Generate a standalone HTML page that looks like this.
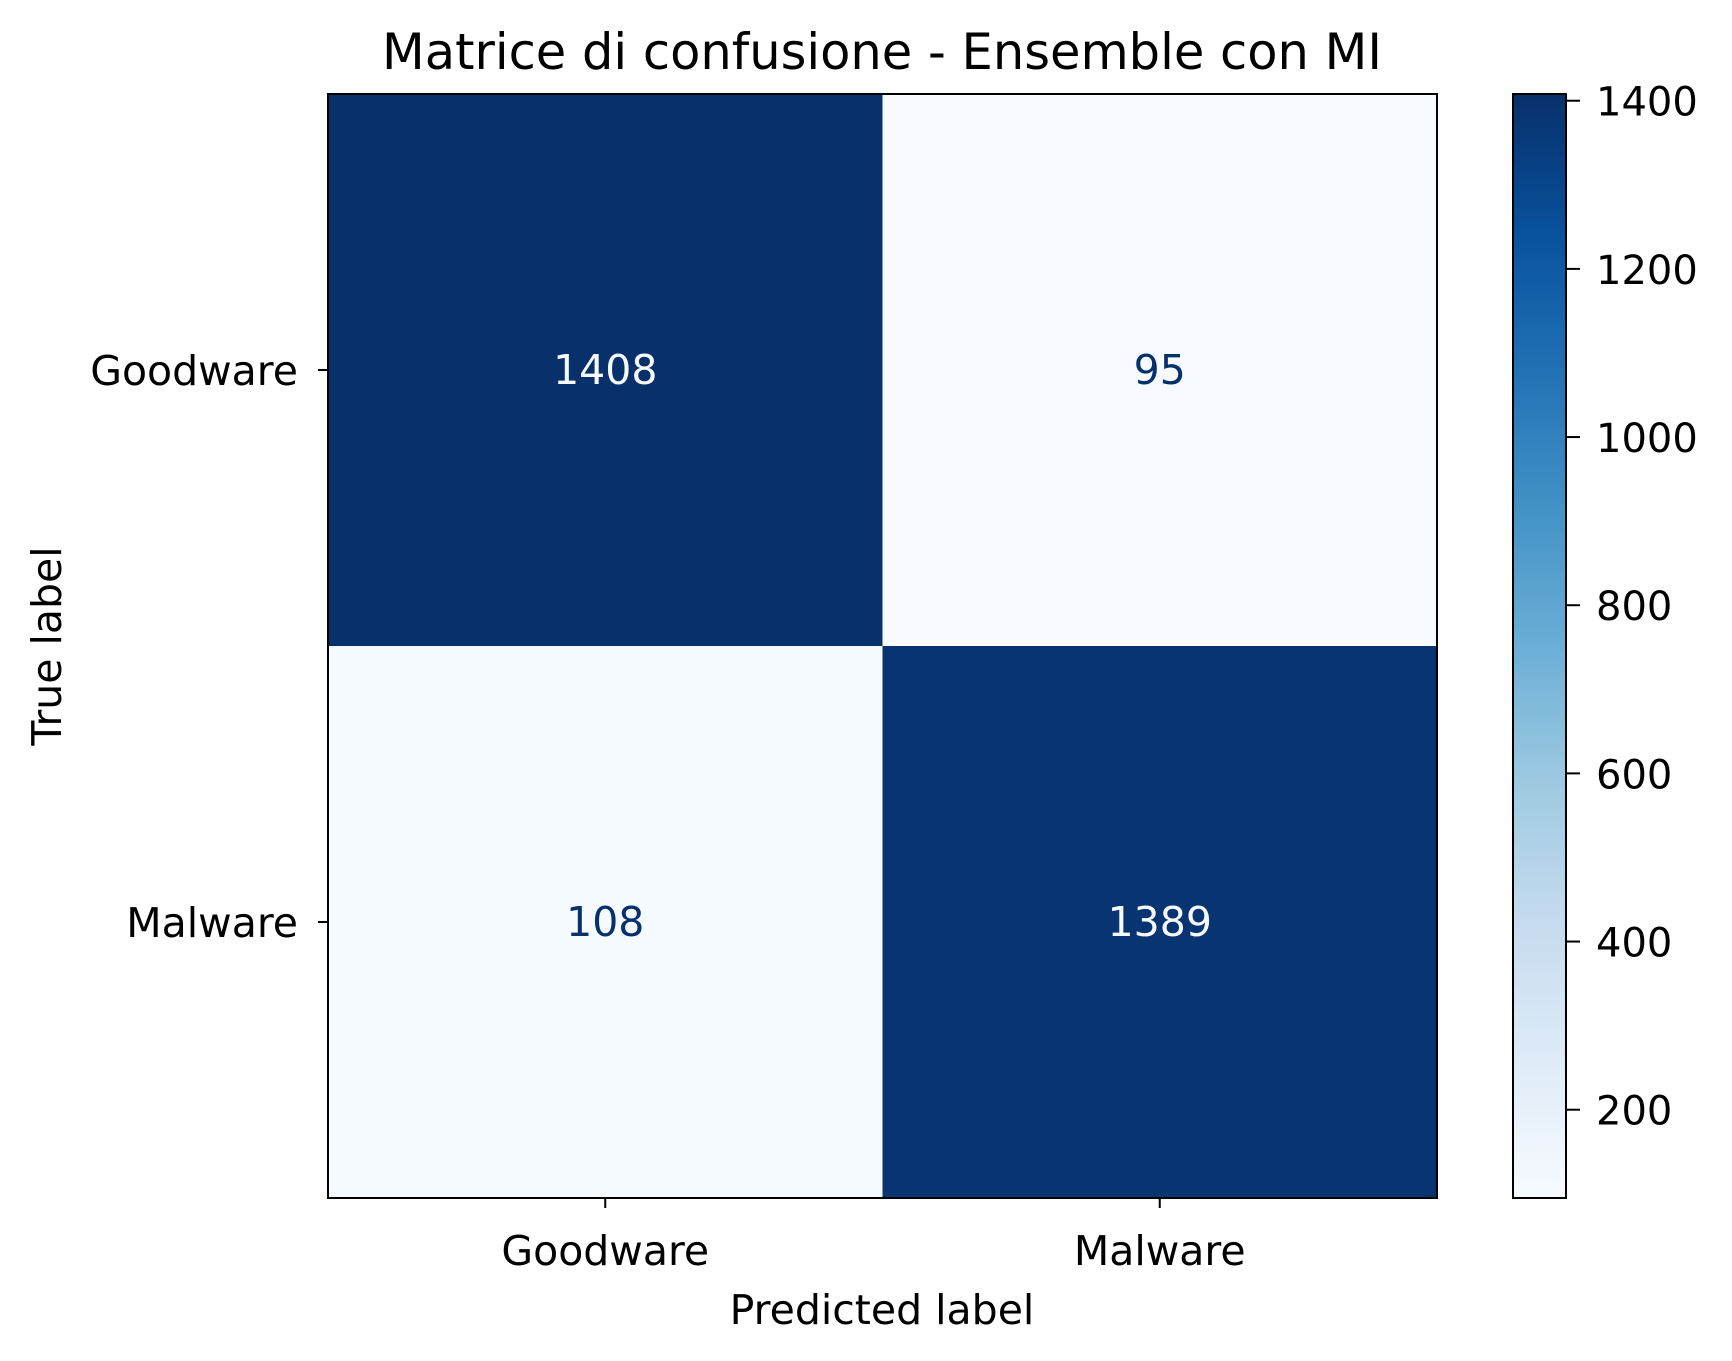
<!DOCTYPE html>
<html><head><meta charset="utf-8"><style>
html,body{margin:0;padding:0;background:#fff}
svg{display:block;font-family:"DejaVu Sans","Liberation Sans",sans-serif}
</style></head><body>
<svg id="chart" width="1732" height="1361" viewBox="0 0 1732 1361" xmlns="http://www.w3.org/2000/svg">
<defs><linearGradient id="blues" x1="0" y1="1" x2="0" y2="0">
<stop offset="0" stop-color="#f7fbff"/><stop offset="0.125" stop-color="#deebf7"/><stop offset="0.25" stop-color="#c6dbef"/><stop offset="0.375" stop-color="#9ecae1"/><stop offset="0.5" stop-color="#6baed6"/><stop offset="0.625" stop-color="#4292c6"/><stop offset="0.75" stop-color="#2171b5"/><stop offset="0.875" stop-color="#08519c"/><stop offset="1" stop-color="#08306b"/>
</linearGradient></defs>
<text x="882" y="69" font-size="49.5" text-anchor="middle">Matrice di confusione - Ensemble con MI</text>
<g id="cells"></g>
<rect x="328" y="94" width="1109" height="1104" fill="none" stroke="#000" stroke-width="2"/>
<g id="axes"></g>
<text x="882" y="1324" font-size="41" text-anchor="middle">Predicted label</text>
<text transform="translate(61,646) rotate(-90)" font-size="41" text-anchor="middle">True label</text>
<rect x="1513" y="94" width="53" height="1104" fill="url(#blues)" stroke="#000" stroke-width="2"/>
<g id="cbticks"></g>
</svg>
<script>
const categories = ["Goodware", "Malware"];
const matrixValues = [[1408, 95], [108, 1389]];
const colorbarTicks = [200, 400, 600, 800, 1000, 1200, 1400];

const NS = "http://www.w3.org/2000/svg";
const L = 328, T = 94, W = 1109, H = 1104;
const flat = matrixValues.flat();
const vmin = Math.min(...flat), vmax = Math.max(...flat);
const stops = ["#f7fbff","#deebf7","#c6dbef","#9ecae1","#6baed6","#4292c6","#2171b5","#08519c","#08306b"];
function hex(c){return [1,3,5].map(i=>parseInt(c.substr(i,2),16));}
function color(v){
  let t = (v - vmin) / (vmax - vmin); t = Math.max(0, Math.min(1, t));
  const p = t * (stops.length - 1), i = Math.min(Math.floor(p), stops.length - 2), f = p - i;
  const a = hex(stops[i]), b = hex(stops[i+1]);
  return "rgb(" + a.map((x,k)=>Math.round(x + (b[k]-x)*f)).join(",") + ")";
}
const n = categories.length;
const cw = W / n, ch = H / n;
const xPos = j => L + j * cw;
const yPos = i => T + i * ch;
function mk(tag, attrs, parent){const e=document.createElementNS(NS,tag);for(const k in attrs)e.setAttribute(k,attrs[k]);parent.appendChild(e);return e;}
const cells = document.getElementById("cells");
const axes = document.getElementById("axes");
const mid = (vmin + vmax) / 2;
matrixValues.forEach((row, i) => row.forEach((v, j) => {
  const r = mk("rect", {x: xPos(j), y: yPos(i), width: cw + 0.5, height: ch + 0.5, fill: color(v)}, cells);
  
  
  const t = mk("text", {x: xPos(j) + cw/2, y: yPos(i) + ch/2 + 14, "font-size": 41, "text-anchor": "middle", fill: v > mid ? "#f7fbff" : "#08306b"}, cells);
  t.textContent = v;
  
  
}));
categories.forEach((c, k) => {
  const cx = xPos(k) + cw/2, cy = yPos(k) + ch/2;
  mk("line", {x1: cx, x2: cx, y1: T+H, y2: T+H+10, stroke: "#000", "stroke-width": 2}, axes);
  const xt = mk("text", {x: cx, y: T+H+67, "font-size": 41, "text-anchor": "middle"}, axes);
  xt.textContent = c;
  
  
  mk("line", {x1: L-10, x2: L, y1: cy, y2: cy, stroke: "#000", "stroke-width": 2}, axes);
  const yt = mk("text", {x: L-30, y: cy + 15, "font-size": 41, "text-anchor": "end"}, axes);
  yt.textContent = c;
  
  
});
const cb = document.getElementById("cbticks");
const cbY = v => T + H - (v - vmin) / (vmax - vmin) * H;
colorbarTicks.forEach(v => {
  const y = cbY(v);
  mk("line", {x1: 1566, x2: 1580, y1: y, y2: y, stroke: "#000", "stroke-width": 2}, cb);
  const t = mk("text", {x: 1596, y: y + 15, "font-size": 40}, cb);
  t.textContent = v;
  
  
});
</script>
</body></html>
